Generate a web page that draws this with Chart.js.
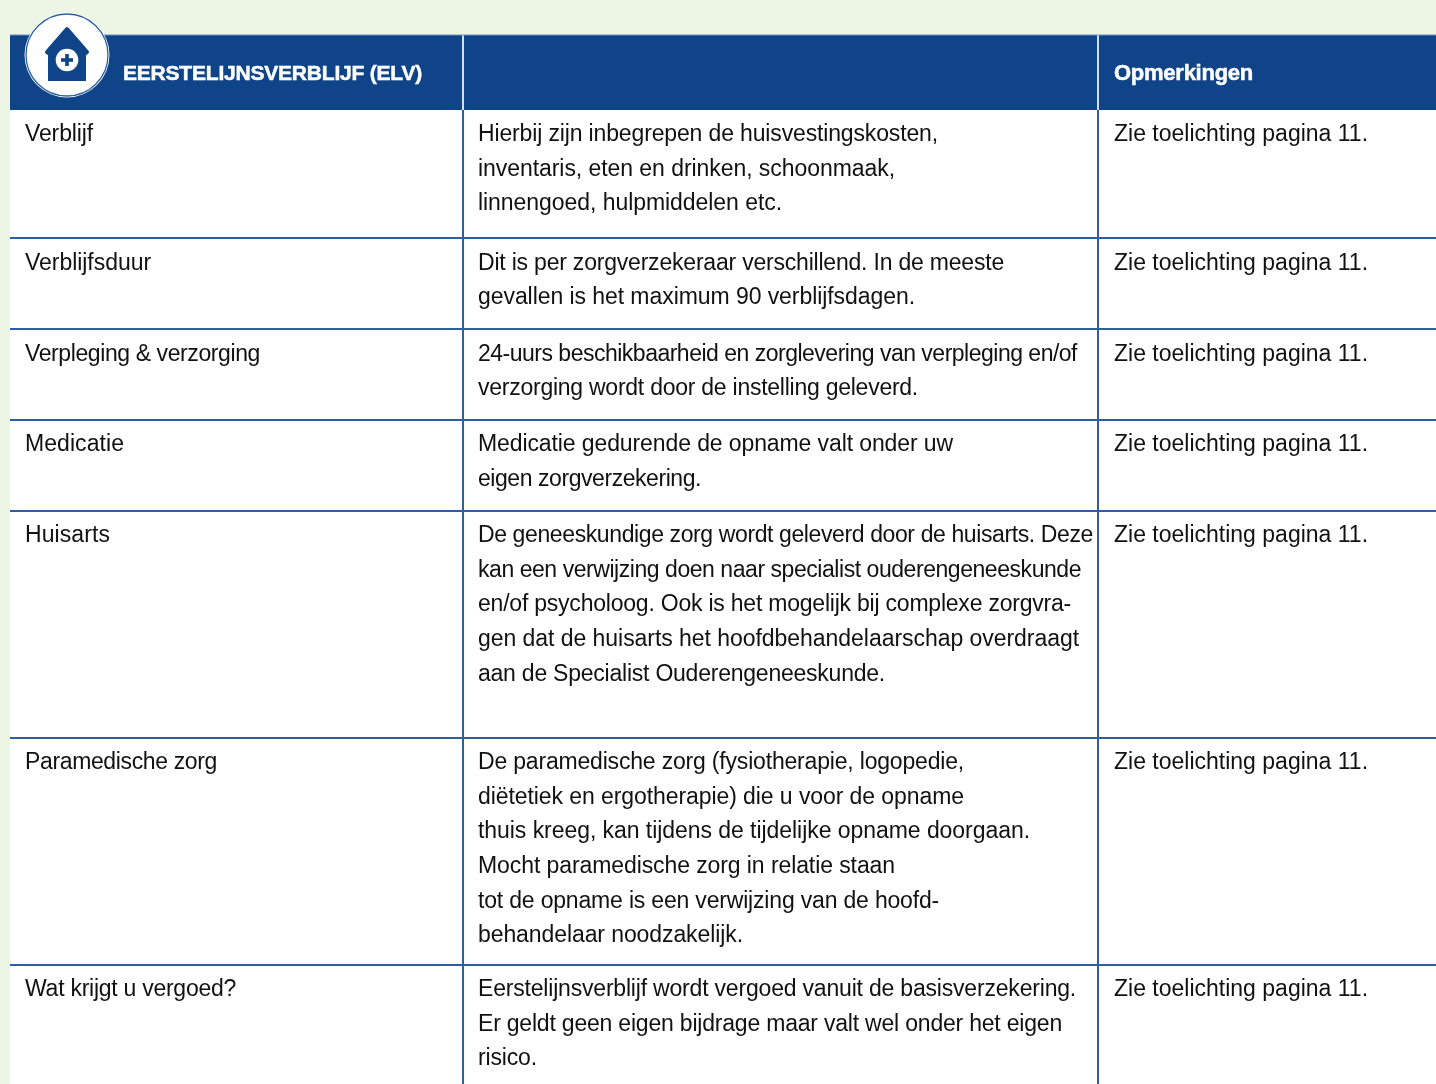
<!DOCTYPE html>
<html lang="nl">
<head>
<meta charset="utf-8">
<title>Eerstelijnsverblijf (ELV)</title>
<script src="https://cdn.jsdelivr.net/npm/chart.js@4"></script>
<style>
  html, body { margin: 0; padding: 0; background: #edf5e5; }
  #wrap { width: 1436px; height: 1084px; }
</style>
</head>
<body>
<div id="wrap"><canvas id="tabel" width="1436" height="1084"></canvas></div>
<script>
const headers = ['EERSTELIJNSVERBLIJF (ELV)', '', 'Opmerkingen'];
const onderwerpen = [
  'Verblijf',
  'Verblijfsduur',
  'Verpleging & verzorging',
  'Medicatie',
  'Huisarts',
  'Paramedische zorg',
  'Wat krijgt u vergoed?',
];
const toelichtingen = [
  ['Hierbij zijn inbegrepen de huisvestingskosten,', 'inventaris, eten en drinken, schoonmaak,', 'linnengoed, hulpmiddelen etc.'],
  ['Dit is per zorgverzekeraar verschillend. In de meeste', 'gevallen is het maximum 90 verblijfsdagen.'],
  ['24-uurs beschikbaarheid en zorglevering van verpleging en/of', 'verzorging wordt door de instelling geleverd.'],
  ['Medicatie gedurende de opname valt onder uw', 'eigen zorgverzekering.'],
  ['De geneeskundige zorg wordt geleverd door de huisarts. Deze', 'kan een verwijzing doen naar specialist ouderengeneeskunde', 'en/of psycholoog. Ook is het mogelijk bij complexe zorgvra-', 'gen dat de huisarts het hoofdbehandelaarschap overdraagt', 'aan de Specialist Ouderengeneeskunde.'],
  ['De paramedische zorg (fysiotherapie, logopedie,', 'diëtetiek en ergotherapie) die u voor de opname', 'thuis kreeg, kan tijdens de tijdelijke opname doorgaan.', 'Mocht paramedische zorg in relatie staan', 'tot de opname is een verwijzing van de hoofd-', 'behandelaar noodzakelijk.'],
  ['Eerstelijnsverblijf wordt vergoed vanuit de basisverzekering.', 'Er geldt geen eigen bijdrage maar valt wel onder het eigen', 'risico.'],
];
const opmerkingen = onderwerpen.map(() => 'Zie toelichting pagina 11.');

// table grid
const kolomGrenzen = [10, 463, 1098, 1436];
const rijGrenzen = [35, 110, 238, 329, 420, 511, 738, 965, 1084];

// text tops per row (rows 2 and 3 sit a little lower in the reference)
const tekstTop = [110, 238.6, 329.6, 420, 511, 738, 965];

// where each line of text ends in the reference, the font runs a bit different
const eindOnderwerp = [93, 151, 260, 124, 110, 217, 236];
const eindToelichting = [
  [938, 895, 782],
  [1004, 915],
  [1077, 918],
  [953, 701],
  [1093, 1081, 1071, 1079, 885],
  [964, 964, 1030, 895, 939, 743],
  [1076, 1062, 537],
];

const BLUE = '#0f4588';
const RULE = '#2c60a2';
const FONT = '"Liberation Sans", Arial, sans-serif';

function hLine(y, color, width) {
  return {
    data: [{ x: kolomGrenzen[0], y }, { x: kolomGrenzen[3], y }],
    borderColor: color, borderWidth: width, order: 1,
  };
}
function vLine(x, y0, y1, color, width) {
  return {
    data: [{ x, y: y0 }, { x, y: y1 }],
    borderColor: color, borderWidth: width, order: 1,
  };
}

const datasets = [
  // white body
  {
    data: [{ x: kolomGrenzen[0], y: rijGrenzen[1] }, { x: kolomGrenzen[3], y: rijGrenzen[1] }],
    borderWidth: 0, fill: { value: rijGrenzen[8] }, backgroundColor: '#ffffff', order: 3,
  },
  // header band
  {
    data: [{ x: kolomGrenzen[0], y: rijGrenzen[0] }, { x: kolomGrenzen[3], y: rijGrenzen[0] }],
    borderWidth: 0, fill: { value: rijGrenzen[1] }, backgroundColor: BLUE, order: 2,
  },
  hLine(rijGrenzen[0], '#6f90b8', 1),
];
rijGrenzen.slice(2, 8).forEach((y) => datasets.push(hLine(y, RULE, 2)));
kolomGrenzen.slice(1, 3).forEach((x) => {
  datasets.push(vLine(x, rijGrenzen[1], rijGrenzen[8], RULE, 2));
  datasets.push(vLine(x, rijGrenzen[0], rijGrenzen[1], '#d5dfec', 2));
});

// text with the letter spacing that makes it end at eind
function passend(ctx, tekst, x0, y0, eind, dik) {
  ctx.letterSpacing = '0px';
  const extra = (eind - x0 - ctx.measureText(tekst).width) / tekst.length;
  ctx.letterSpacing = extra.toFixed(3) + 'px';
  if (dik) ctx.strokeText(tekst, x0, y0);
  ctx.fillText(tekst, x0, y0);
  ctx.letterSpacing = '0px';
}

const tekstPlugin = {
  id: 'tekst',
  afterDatasetsDraw(chart) {
    const { ctx, scales: { x, y } } = chart;
    ctx.save();
    ctx.textBaseline = 'alphabetic';
    ctx.textAlign = 'left';

    // header
    ctx.fillStyle = '#ffffff';
    ctx.strokeStyle = '#ffffff';
    ctx.lineWidth = 0.5;
    ctx.font = 'bold 21px ' + FONT;
    passend(ctx, headers[0], x.getPixelForValue(123), y.getPixelForValue(80), x.getPixelForValue(422), true);
    ctx.font = 'bold 22px ' + FONT;
    passend(ctx, headers[2], x.getPixelForValue(1114), y.getPixelForValue(80), x.getPixelForValue(1253), true);

    // rows
    ctx.fillStyle = '#111111';
    ctx.font = '23px ' + FONT;
    onderwerpen.forEach((naam, i) => {
      const basis = tekstTop[i] + 31.2;
      passend(ctx, naam, x.getPixelForValue(25), y.getPixelForValue(basis), x.getPixelForValue(eindOnderwerp[i]));
      toelichtingen[i].forEach((regel, j) => {
        passend(ctx, regel, x.getPixelForValue(478), y.getPixelForValue(basis + j * 34.6), x.getPixelForValue(eindToelichting[i][j]));
      });
      ctx.fillText(opmerkingen[i], x.getPixelForValue(1114), y.getPixelForValue(basis));
    });

    // icon
    const cx = x.getPixelForValue(67), cy = y.getPixelForValue(55);
    ctx.fillStyle = '#ffffff';
    ctx.beginPath(); ctx.arc(cx, cy, 42.5, 0, Math.PI * 2); ctx.fill();
    ctx.strokeStyle = RULE; ctx.lineWidth = 1.3;
    ctx.beginPath(); ctx.arc(cx, cy, 41, 0, Math.PI * 2); ctx.stroke();
    ctx.fillStyle = BLUE;
    ctx.strokeStyle = BLUE;
    ctx.lineWidth = 4;
    ctx.lineJoin = 'round';
    ctx.beginPath();
    ctx.moveTo(cx, cy - 26);
    ctx.lineTo(cx + 20, cy - 3);
    ctx.lineTo(cx + 17, cy - 1);
    ctx.lineTo(cx + 17, cy + 24);
    ctx.lineTo(cx - 17, cy + 24);
    ctx.lineTo(cx - 17, cy - 1);
    ctx.lineTo(cx - 20, cy - 3);
    ctx.closePath();
    ctx.fill();
    ctx.stroke();
    ctx.fillRect(cx - 19, cy + 20, 38, 6);
    ctx.fillStyle = '#ffffff';
    ctx.beginPath(); ctx.arc(cx, cy + 5, 11.3, 0, Math.PI * 2); ctx.fill();
    ctx.fillStyle = BLUE;
    ctx.fillRect(cx - 6, cy + 3.2, 12, 3.6);
    ctx.fillRect(cx - 1.8, cy - 1, 3.6, 12);
    ctx.restore();
  },
};

new Chart(document.getElementById('tabel'), {
  type: 'scatter',
  data: { datasets },
  options: {
    responsive: false,
    animation: false,
    showLine: true,
    layout: { padding: 0 },
    elements: { point: { radius: 0 }, line: { tension: 0 } },
    clip: false,
    scales: {
      x: { type: 'linear', min: 0, max: 1436, display: false },
      y: { type: 'linear', min: 0, max: 1084, reverse: true, display: false },
    },
    plugins: { legend: { display: false }, tooltip: { enabled: false }, title: { display: false } },
  },
  plugins: [tekstPlugin],
});
</script>
</body>
</html>
